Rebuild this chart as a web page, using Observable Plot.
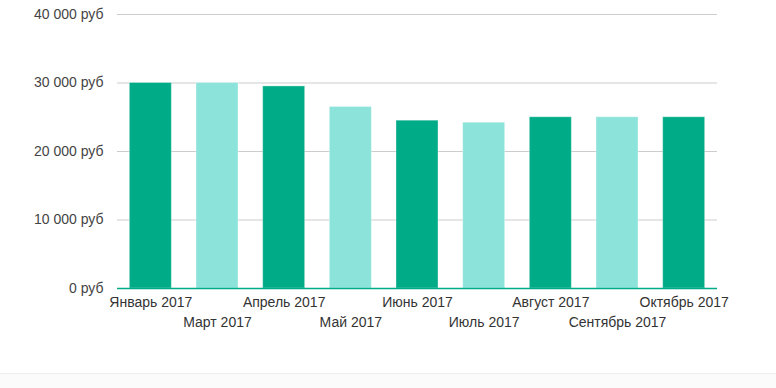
<!DOCTYPE html>
<html>
<head>
<meta charset="utf-8">
<script src="https://cdn.jsdelivr.net/npm/d3@7"></script>
<script src="https://cdn.jsdelivr.net/npm/@observablehq/plot@0.6"></script>
<style>
  html, body { margin: 0; padding: 0; background: #fff; }
  #chart svg { display: block; }
  #footer { height: 15px; border-top: 1px solid #efefef; background: #fbfbfb; }
</style>
</head>
<body>
<div id="chart"></div>
<div id="footer"></div>
<script>
const months = ["Январь 2017","Март 2017","Апрель 2017","Май 2017","Июнь 2017","Июль 2017","Август 2017","Сентябрь 2017","Октябрь 2017"];
const values = [30000, 30000, 29500, 26500, 24500, 24200, 25000, 25000, 25000];
const shades = ["dark","light","dark","light","dark","light","dark","light","dark"];
const yTicks = [0, 10000, 20000, 30000, 40000];

const data = months.map((m, i) => ({month: m, value: values[i], shade: shades[i]}));
const fmt = d3.formatLocale({thousands: " ", grouping: [3], decimal: ","}).format(",");
const topRow = months.filter((d, i) => i % 2 === 0);
const bottomRow = months.filter((d, i) => i % 2 === 1);

const chart = Plot.plot({
  width: 776,
  height: 373,
  marginLeft: 117,
  marginRight: 59,
  marginTop: 14,
  marginBottom: 85,
  style: {fontFamily: "'Liberation Sans', Arial, sans-serif", fontSize: "14px", color: "#333", background: "#fff"},
  x: {domain: months, paddingInner: 0.37, paddingOuter: 0.185, round: false, label: null, axis: null},
  y: {domain: [0, 40000], label: null, axis: null},
  color: {domain: ["dark", "light"], range: ["#00ab87", "#8ce3d9"]},
  marks: [
    Plot.gridY(yTicks.filter(d => d > 0), {stroke: "#cccccc", strokeOpacity: 1}),
    Plot.axisY({ticks: yTicks, tickSize: 0, tickPadding: 14, tickFormat: d => fmt(d) + " руб", label: null, fill: "#444"}),
    Plot.barY(data, {x: "month", y: "value", fill: "shade", stroke: "#ffffff", strokeOpacity: 0.35, strokeWidth: 1}),
    Plot.ruleY([0], {stroke: "#00ab87", strokeWidth: 1.5}),
    Plot.axisX({ticks: topRow, tickSize: 0, tickPadding: 9, label: null, fill: "#333"}),
    Plot.axisX({ticks: bottomRow, tickSize: 0, tickPadding: 29, label: null, fill: "#333"})
  ]
});
document.getElementById("chart").append(chart);
</script>
</body>
</html>
